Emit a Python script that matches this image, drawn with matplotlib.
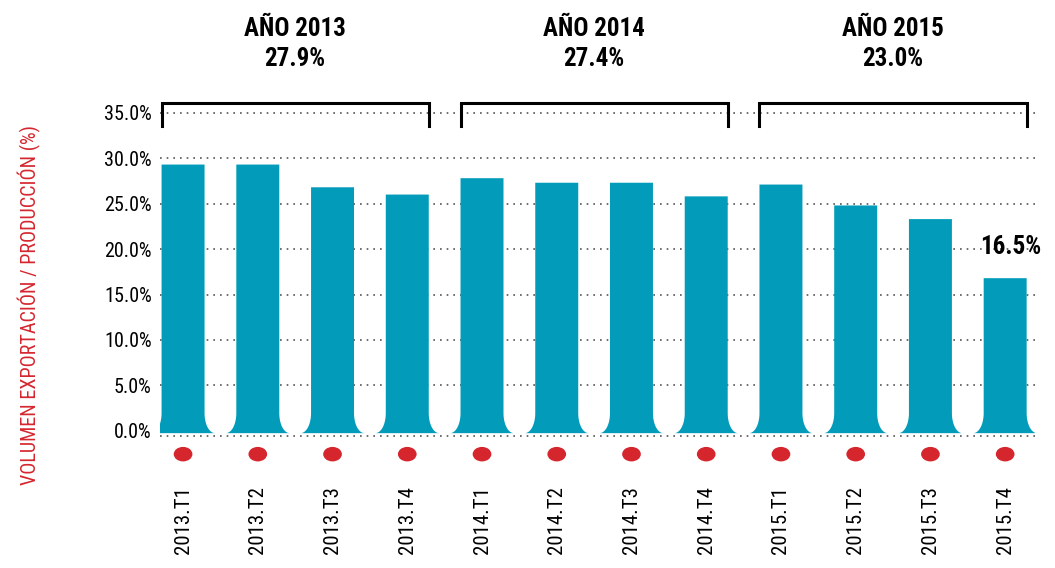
import numpy as np
import matplotlib
matplotlib.use("Agg")
import matplotlib.pyplot as plt
from matplotlib.patches import Polygon, Ellipse
import matplotlib.transforms as mtransforms

# datos
Trimestres = ["2013.T1", "2013.T2", "2013.T3", "2013.T4",
              "2014.T1", "2014.T2", "2014.T3", "2014.T4",
              "2015.T1", "2015.T2", "2015.T3", "2015.T4"]
Valores = [29.3, 29.3, 26.8, 26.0,
           27.8, 27.3, 27.3, 25.8,
           27.1, 24.8, 23.3, 16.8]
Anios = ["AÑO 2013", "AÑO 2014", "AÑO 2015"]
Promedios = ["27.9%", "27.4%", "23.0%"]
Etiqueta_final = "16.5%"
Y_ticks = [0, 5, 10, 15, 20, 25, 30, 35]

Color_barra = "#029cba"
Color_rojo = "#d5262e"

plt.rcParams['font.family'] = ['Roboto Condensed', 'Archivo Narrow', 'DejaVu Sans']

fig = plt.figure(figsize=(10.55, 5.68), dpi=100)
ax = fig.add_axes([0.1517, 0.2254, 0.8294, 0.5809])
ax.set_xlim(-0.308, len(Trimestres) - 1 + 0.40)
ax.set_ylim(-1.0, 35.3)

## barras con base ensanchada
ancho = 0.575
flare_w = 0.14
flare_h = 2.2
base = -0.25
t = np.linspace(0, np.pi / 2, 20)
for i, v in enumerate(Valores):
    xl = i - ancho / 2
    xr = i + ancho / 2
    lx = xl - flare_w + flare_w * np.cos(t)
    ly = base + flare_h - flare_h * np.sin(t)
    left = list(zip(lx[::-1], ly[::-1]))
    rx = xr + flare_w - flare_w * np.cos(t)
    ry = base + flare_h - flare_h * np.sin(t)
    right = list(zip(rx, ry))
    pts = left + [(xl, v), (xr, v)] + right
    ax.add_patch(Polygon(pts, closed=True, facecolor=Color_barra,
                         edgecolor='none', zorder=3))

## lineas de cuadricula punteadas
for y in Y_ticks[1:]:
    ax.axhline(y, color='#555555', linestyle=(0, (1, 3)), linewidth=1.2, zorder=1)
ax.axhline(-0.55, color='#555555', linestyle=(0, (1, 3)), linewidth=1.2, zorder=1)

ax.set_yticks(Y_ticks)
ax.set_yticklabels(["{:.1f}%".format(y) for y in Y_ticks], fontsize=14.5)
ax.tick_params(axis='y', length=0, pad=6)
ax.set_xticks(range(len(Trimestres)))
ax.set_xticklabels(Trimestres, rotation=90, fontsize=15)
ax.tick_params(axis='x', length=0, pad=33)
for s in ax.spines.values():
    s.set_visible(False)

## puntos rojos bajo cada barra
trans = mtransforms.blended_transform_factory(ax.transData, ax.transAxes)
for i in range(len(Trimestres)):
    ax.add_patch(Ellipse((i, -0.043), 0.25, 0.044, transform=trans,
                         facecolor=Color_rojo, edgecolor='none', clip_on=False))

## corchetes y titulos por anio
for g in range(len(Anios)):
    x0 = g * 4 - ancho / 2
    x1 = g * 4 + 3 + ancho / 2
    ax.plot([x0, x0, x1, x1], [33.5, 36.1, 36.1, 33.5], color='black',
            linewidth=2.2, clip_on=False, solid_joinstyle='miter', zorder=4)
    xc = g * 4 + 1.5
    ax.text(xc, 44.2, Anios[g], ha='center', va='center', fontsize=18,
            fontweight='bold', clip_on=False)
    ax.text(xc, 40.9, Promedios[g], ha='center', va='center', fontsize=18,
            fontweight='bold', clip_on=False)

ax.text(len(Valores) - 1 + 0.08, Valores[-1] + 3.4, Etiqueta_final, ha='center',
        va='center', fontsize=18, fontweight='bold', clip_on=False)

fig.text(0.028, 0.463, "VOLUMEN EXPORTACIÓN / PRODUCCIÓN (%)", rotation=90,
         ha='center', va='center', color=Color_rojo, fontsize=14.5)

fig.savefig("out.png", dpi=100)
